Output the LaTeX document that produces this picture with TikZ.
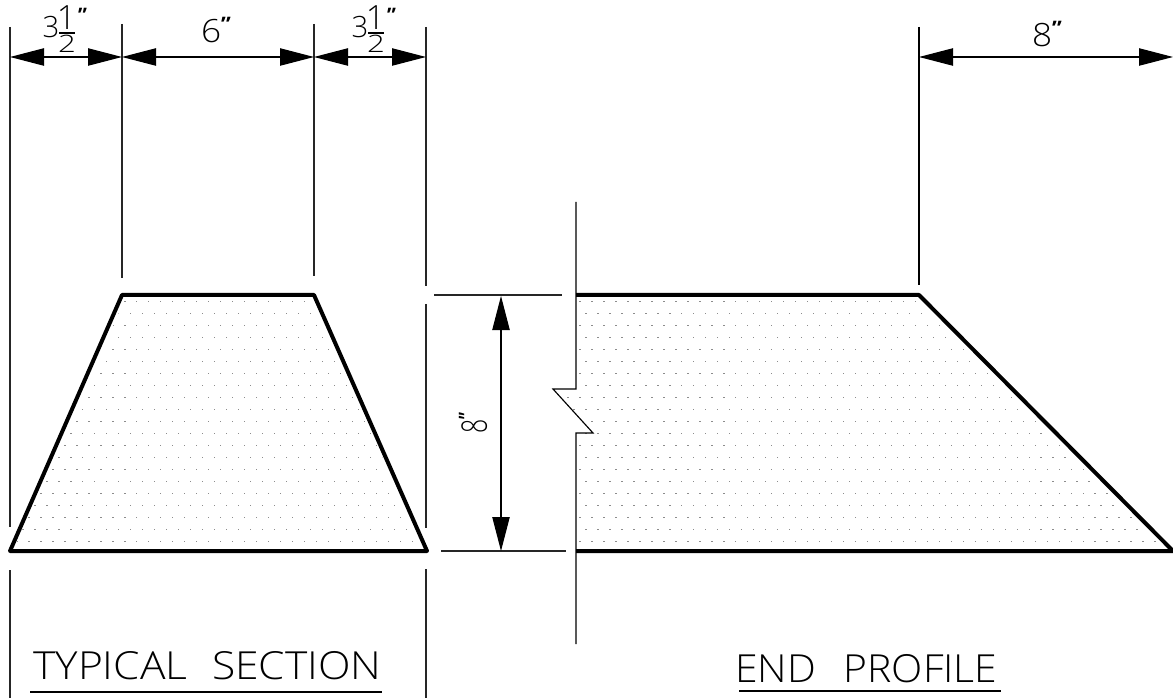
\documentclass[tikz,border=0pt]{standalone}
\usepackage{fontspec}
\setmainfont{Open Sans}[UprightFont=* Light,BoldFont=* Bold]
\usetikzlibrary{calc,positioning,arrows.meta}
\newcommand{\inchmark}{\raisebox{.66ex}{\fontsize{15}{15}\selectfont\bfseries ”}}
\tikzset{
	dimline/.style={line width=0.85pt},
	extline/.style={line width=1pt,black!85},
	outline/.style={line width=3pt,line join=round},
	dimarrow/.style={dimline,{Triangle[length=25.5pt,width=13pt]}-{Triangle[length=25.5pt,width=13pt]}},
	dimtext/.style={inner sep=0pt,xscale=1.1,transform shape,font=\fontsize{24}{26}\selectfont},
	smalltext/.style={inner sep=0pt,font=\fontsize{18}{20}\selectfont},
	titletext/.style={inner sep=0pt,anchor=base west,xscale=1.1,transform shape,font=\fontsize{29}{31}\selectfont},
	fleck/.style={fill=black!45},
	halfdim/.pic={
		\node[smalltext,font=\fontsize{22}{24}\selectfont] (-three) at (0,-1) {3};
		\node[smalltext,font=\fontsize{25}{26}\selectfont] (-one) at (15.5,-10) {1};
		\node[smalltext,xscale=1.3,transform shape] (-two) at (16,16) {2};
		\coordinate (-barl) at (8,5);
		\coordinate (-barr) at (24,5);
		\draw[line width=0.9pt] (-barl) -- (-barr);
		\node[inner sep=0pt] (-mark) at (31.5,-10) {\inchmark};
	}
}

\begin{document}
\begin{tikzpicture}[x=0.75pt,y=-0.75pt]
	\useasboundingbox (0,0) rectangle (1173,698);
	\coordinate (bl) at (10,551);
	\coordinate (tl) at (122,295);
	\coordinate (tr) at (314,295);
	\coordinate (br) at (427,551);
	\coordinate (ptl) at (576,295);
	\coordinate (ptr) at (919,295);
	\coordinate (pbr) at (1173,551);
	\coordinate (pbl) at (576,551);
	\coordinate (zigl) at (553,389);
	\coordinate (zigr) at (593,433);
	
	\begin{scope}
		\clip ($(tl)+(3.5,3)$) -- ($(tr)+(-3.5,3)$) -- ($(br)+(-4,-3)$) -- ($(bl)+(4,-3)$) -- cycle
			($(ptl)+(2,3)$) -- ($(ptr)+(-3,3)$) -- ($(pbr)+(-7,-3)$) -- ($(pbl)+(2,-3)$) -- (578,433) -- (zigr) -- (zigl) -- (578,389) -- cycle;
		\foreach \row in {0,2,...,20} {
			\foreach \col in {0,...,97} {
				\fill[fleck] ({5+11.98*\col-0.7},{301.3+12*\row-0.5}) rectangle +(1.4,1);
			}
		}
		\foreach \row in {1,3,...,19} {
			\foreach \col in {0,...,97} {
				\fill[fleck] ({10.9+11.98*\col-0.7},{301.3+12*\row-0.5}) rectangle +(1.4,1);
			}
		}
	\end{scope}
	
	\draw[outline] (tl) -- (tr) -- (br) -- (bl) -- cycle;
	\draw[outline] (pbl) -- (pbr) -- (ptr) -- (ptl);
	
	\coordinate (a1) at (10,27);
	\coordinate (a2) at (122,24);
	\coordinate (a3) at (314,24);
	\coordinate (a4) at (426,27);
	\coordinate (a5) at (919,27);
	\draw[extline] (a1) -- (10,527);
	\draw[extline] (a2) -- (122,278);
	\draw[extline] (a3) -- (314,276);
	\draw[extline] (a4) -- (426,286);
	\draw[extline] (426,304) -- (426,528);
	\draw[extline] (10,570) -- (10,698);
	\draw[extline] (426,569) -- (426,698);
	\draw[dimline] (a5) -- (919,285);
	\draw[extline] (434,295) -- (562,295);
	\draw[extline] (441,551) -- (566,551);
	
	\draw[dimline,line join=miter] (576,202) -- (ptl) -- (576,389) -- (zigl) -- (zigr) -- (576,433) -- (pbl) -- (576,644);
	
	\coordinate (d1) at (10,57);
	\coordinate (d2) at (122,57);
	\coordinate (d3) at (314,57);
	\coordinate (d4) at (426,57);
	\coordinate (d5) at (919,57);
	\coordinate (d6) at (1173,57);
	\coordinate (h1) at (501,296);
	\coordinate (h2) at (501,551);
	\draw[dimarrow] (d1) -- (d2);
	\draw[dimarrow] (d2) -- (d3);
	\draw[dimarrow] (d3) -- (d4);
	\draw[dimarrow] (d5) -- (d6);
	\draw[dimarrow] (h1) -- (h2);
	
	\pic (lefttext) at (51,28) {halfdim};
	\pic (righttext) at (360,28) {halfdim};
	\node[dimtext] (midtext) at (216,30) {6\inchmark};
	\node[dimtext] (proftext) at (1047,34) {8\inchmark};
	\node[dimtext,rotate=90,xscale=.78] (hghttext) at (473,423) {8\inchmark};
	
	\node[titletext] (secttext) at (33,679) {TYPICAL\hspace{.58em}SECTION};
	\node[titletext,xscale=.96] (endtext) at (735,682) {END\hspace{.68em}PROFILE};
	\coordinate (su1) at (30,692);
	\coordinate (su2) at (382,692);
	\coordinate (eu1) at (739,691);
	\coordinate (eu2) at (1001,691);
	\draw[line width=1.3pt] (su1) -- (su2);
	\draw[line width=1.3pt] (eu1) -- (eu2);
\end{tikzpicture}
\end{document}
